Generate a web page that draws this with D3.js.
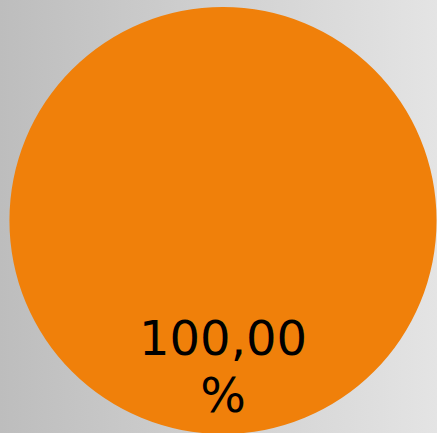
<!DOCTYPE html>
<html>
<head>
<meta charset="utf-8">
<script src="https://cdn.jsdelivr.net/npm/d3@7"></script>
<style>
  html, body { margin: 0; padding: 0; }
  svg { display: block; }
</style>
</head>
<body>
<div id="chart"></div>
<script>
// Data
var labels = ["Total"];
var values = [100];
var valueText = ["100,00", "%"];
var colours = ["#F0800A"];

var width = 437, height = 433;
var cx = 223, cy = 220.5, radius = 213.5;

var svg = d3.select("#chart")
    .append("svg")
    .attr("width", width)
    .attr("height", height);

// background gradient
var grad = svg.append("defs")
    .append("linearGradient")
    .attr("id", "bg")
    .attr("x1", "0%").attr("y1", "0%")
    .attr("x2", "100%").attr("y2", "0%");
grad.append("stop").attr("offset", "0%").attr("stop-color", "#bdbdbd");
grad.append("stop").attr("offset", "100%").attr("stop-color", "#e4e4e4");

svg.append("rect")
    .attr("width", width)
    .attr("height", height)
    .attr("fill", "url(#bg)");

var pie = d3.pie().sort(null).value(function(d) { return d; });
var arcs = pie(values);

var arc = d3.arc().innerRadius(0).outerRadius(radius);
var labelArc = d3.arc().innerRadius(radius * 0.7).outerRadius(radius * 0.7);

var g = svg.append("g").attr("transform", "translate(" + cx + "," + cy + ")");

g.selectAll("path")
    .data(arcs)
    .enter()
    .append("path")
    .attr("d", arc)
    .attr("fill", function(d, i) { return colours[i]; });

// labels
var label = g.selectAll("text")
    .data(arcs)
    .enter()
    .append("text")
    .attr("transform", function(d) { return "translate(" + labelArc.centroid(d) + ")"; })
    .attr("text-anchor", "middle")
    .style("font-family", "'DejaVu Sans', Verdana, sans-serif")
    .style("font-size", "48px")
    .attr("fill", "#000");

label.append("tspan")
    .attr("x", 0)
    .attr("y", -15)
    .text(valueText[0]);
label.append("tspan")
    .attr("x", 0)
    .attr("y", 42)
    .text(valueText[1]);
</script>
</body>
</html>
